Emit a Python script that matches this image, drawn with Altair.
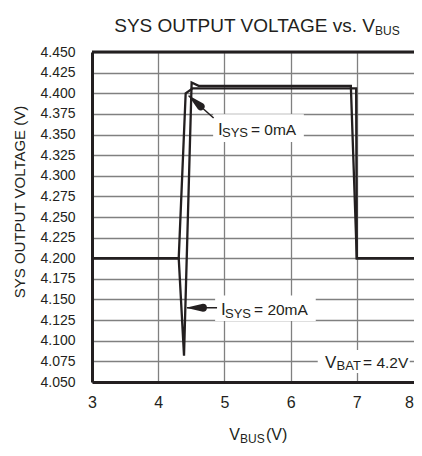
import math
import altair as alt
import pandas as pd

# ---------------- data ----------------
vbus_0ma = [3.0, 4.31, 4.415, 4.52, 6.99, 7.0, 8.0]
vsys_0ma = [4.200, 4.200, 4.400, 4.406, 4.406, 4.200, 4.200]
vbus_20ma = [3.0, 4.31, 4.39, 4.505, 4.61, 6.91, 7.0, 8.0]
vsys_20ma = [4.200, 4.200, 4.082, 4.413, 4.409, 4.409, 4.200, 4.200]

x_ticks = [3, 4, 5, 6, 7, 8]
y_ticks = [4.050, 4.075, 4.100, 4.125, 4.150, 4.175, 4.200, 4.225, 4.250,
           4.275, 4.300, 4.325, 4.350, 4.375, 4.400, 4.425, 4.450]
x_dom = [3, 8]
y_dom = [4.050, 4.450]

# annotations (data units)
ann_names = ["0mA", "20mA", "vbat"]
ann_lead = ["I", "I", "V"]
ann_sub = ["SYS", "SYS", "BAT"]
ann_rest = ["= 0mA", "= 20mA", "= 4.2V"]
ann_x = [4.903, 4.949, 6.52]
ann_y = [4.3495, 4.131, 4.067]
box_x = [4.83, 4.86, 6.41]
box_x2 = [6.2, 6.38, 7.80]
box_y = [4.341, 4.124, 4.061]
box_y2 = [4.3745, 4.155, 4.0888]
arrow_x = [4.837, 4.889]
arrow_y = [4.370, 4.140]
arrow_tip_x = [4.46, 4.434]
arrow_tip_y = [4.397, 4.140]

title_main = "SYS OUTPUT VOLTAGE vs. V"
title_sub = "BUS"
ytitle = "SYS OUTPUT VOLTAGE (V)"
xtitle_main = "V"
xtitle_sub = "BUS"
xtitle_rest = "(V)"

# ---------------- style ----------------
W, H = 322, 330          # visible plot area (the reference is cropped at the right)
X_RANGE = 331            # pixel span of 3..8 V
FONT = "Liberation Sans, Arial, sans-serif"
INK = "#231f20"
GRID = "#808080"

xs = alt.Scale(domain=x_dom, range=[0, X_RANGE], nice=False, zero=False)
ys = alt.Scale(domain=y_dom, nice=False, zero=False)

xaxis = alt.Axis(values=x_ticks, format="d", ticks=False, labelPadding=12,
                 labelFont=FONT, labelFontSize=16, labelColor=INK, grid=True,
                 gridColor=GRID, gridWidth=1.3, domainColor=INK, domainWidth=3,
                 title=None, labelFlush=False, labelOverlap=False,
                 labelOffset=alt.ExprRef(expr="datum.value >= 8 ? -14 : 0"))
yaxis = alt.Axis(values=y_ticks, format=".3f", ticks=False, labelPadding=17,
                 labelFont=FONT, labelFontSize=14, labelColor=INK, grid=True,
                 gridColor=GRID, gridWidth=1.3, domainColor=INK, domainWidth=3,
                 title=None, labelFlush=False, labelOverlap=False)


def X(field):
    return alt.X(field, type="quantitative", scale=xs, axis=xaxis)


def Y(field):
    return alt.Y(field, type="quantitative", scale=ys, axis=yaxis)


rows = []
for i, (x, y) in enumerate(zip(vbus_0ma, vsys_0ma)):
    rows.append({"v": x, "s": y, "series": "0mA", "i": i})
for i, (x, y) in enumerate(zip(vbus_20ma, vsys_20ma)):
    rows.append({"v": x, "s": y, "series": "20mA", "i": i})
df = pd.DataFrame(rows)

# white boxes behind the labels
boxes = pd.DataFrame({"x": box_x, "x2": box_x2, "y": box_y, "y2": box_y2})
box_layer = alt.Chart(boxes).mark_rect(color="white").encode(
    x=X("x"), x2="x2:Q", y=Y("y"), y2="y2:Q")

lines = alt.Chart(df).mark_line(color=INK, strokeWidth=2.3, strokeJoin="miter").encode(
    x=X("v"), y=Y("s"), detail="series:N", order="i:Q")

top_border = alt.Chart(pd.DataFrame({"y": [y_dom[1]]})).mark_rule(
    color=INK, strokeWidth=3).encode(y=Y("y"))

# arrows: shaft + tapered trail head
px_per_x = X_RANGE / (x_dom[1] - x_dom[0])
px_per_y = H / (y_dom[1] - y_dom[0])
HEAD_LEN = 16
HEAD_W = 8
shaft_df = pd.DataFrame({"x": arrow_x, "y": arrow_y, "tx": arrow_tip_x, "ty": arrow_tip_y})
shafts = alt.Chart(shaft_df).mark_rule(color=INK, strokeWidth=1.5).encode(
    x=X("x"), x2="tx:Q", y=Y("y"), y2="ty:Q")

head_rows = []
for k, (x, y, tx, ty) in enumerate(zip(arrow_x, arrow_y, arrow_tip_x, arrow_tip_y)):
    dxp = (x - tx) * px_per_x
    dyp = (y - ty) * px_per_y
    ln = math.hypot(dxp, dyp)
    bx = tx + HEAD_LEN * dxp / ln / px_per_x
    by = ty + HEAD_LEN * dyp / ln / px_per_y
    head_rows.append({"a": k, "o": 0, "x": tx, "y": ty, "w": 0.3})
    head_rows.append({"a": k, "o": 1, "x": bx, "y": by, "w": HEAD_W})
heads = alt.Chart(pd.DataFrame(head_rows)).mark_trail(color=INK).encode(
    x=X("x"), y=Y("y"), detail="a:N", order="o:Q",
    size=alt.Size("w:Q", scale=None, legend=None))

ann = pd.DataFrame({"x": ann_x, "y": ann_y, "lead": ann_lead, "sub": ann_sub,
                    "rest": ann_rest, "name": ann_names})
ann["dsub"] = [4, 4, 11.5]
ann["drest"] = [33, 33, 38]


def txt(field, size, dxfield=None, dy=0):
    layers = []
    for _, r in ann.iterrows():
        dx = 0 if dxfield is None else r[dxfield]
        layers.append(alt.Chart(ann[ann["name"] == r["name"]]).mark_text(
            font=FONT, fontSize=size, color=INK, align="left", baseline="alphabetic",
            dx=float(dx), dy=dy).encode(x=X("x"), y=Y("y"), text=f"{field}:N"))
    return layers


ann_layers = txt("lead", 17) + txt("sub", 13, "dsub", 2.5) + txt("rest", 15.5, "drest")


# titles (pixel placement relative to plot area)
def label(text, x, y, size, align="left", angle=0, baseline="alphabetic"):
    return alt.Chart(pd.DataFrame({"t": [text]})).mark_text(
        font=FONT, fontSize=size, color=INK, align=align, baseline=baseline,
        angle=angle).encode(x=alt.value(x), y=alt.value(y), text="t:N")


titles = [
    label(title_main, 283, -20.3, 19, align="right"),
    label(title_sub, 283, -17.5, 12),
    label(ytitle, -72, 150, 15, align="center", angle=270, baseline="middle"),
    label(xtitle_main, 148, 388, 16, align="right"),
    label(xtitle_sub, 148, 390.5, 12),
    label(xtitle_rest, 174, 388, 16),
]

chart = alt.layer(box_layer, lines, top_border, shafts, heads, *ann_layers, *titles).properties(
    width=W, height=H,
    autosize=alt.AutoSizeParams(type="none"),
    padding={"left": 84, "top": 44, "right": 0, "bottom": 66},
    background="white",
).configure_view(stroke=None)

chart.save("out.html", embed_options={"renderer": "svg", "actions": False})
